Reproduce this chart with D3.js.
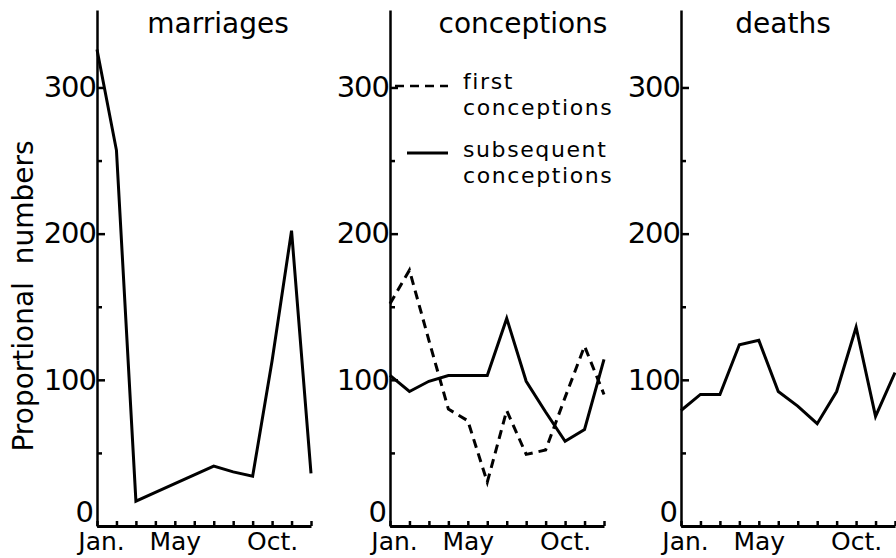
<!DOCTYPE html>
<html>
<head>
<meta charset="utf-8">
<script src="https://cdn.jsdelivr.net/npm/d3@7"></script>
<style>
  body { margin: 0; background: #fff; }
  text { font-family: "DejaVu Sans", sans-serif; fill: #000; }
</style>
</head>
<body>
<div id="chart"></div>
<script>
// month index 0..11 (Jan..Dec)
const months = ["Jan.", "Feb.", "Mar.", "Apr.", "May", "Jun.", "Jul.", "Aug.", "Sep.", "Oct.", "Nov.", "Dec."];
const monthLabels = ["Jan.", "May", "Oct."];
const yTicks = [0, 50, 100, 150, 200, 250, 300];
const yLabels = [0, 100, 200, 300];

const marriages = [326, 257, 17, 23, 29, 35, 41, 37, 34, 113, 202, 36];
const firstConceptions = [152, 175, 127, 80, 72, 30, 79, 49, 52, 88, 123, 90];
const subsequentConceptions = [103, 92, 99, 103, 103, 103, 142, 99, 78, 58, 66, 114];
const deaths = [79, 90, 90, 124, 127, 92, 82, 70, 92, 136, 75, 105];

const panelTitles = ["marriages", "conceptions", "deaths"];
const legendLabels = [["first", "conceptions"], ["subsequent", "conceptions"]];

function init() {
    let width = 896, height = 558;

    let svg = d3.select("#chart")
        .append("svg")
        .attr("width", width)
        .attr("height", height);

    // same vertical scale for every panel
    let y = d3.scaleLinear().domain([0, 353]).range([526, 10]);

    let panels = [
        { left: 97, titleX: 218, title: panelTitles[0], series: [{ values: marriages, dash: null }] },
        { left: 390, titleX: 523, title: panelTitles[1], series: [
            { values: firstConceptions, dash: "9,6" },
            { values: subsequentConceptions, dash: null }] },
        { left: 681, titleX: 783, title: panelTitles[2], series: [{ values: deaths, dash: null }] }
    ];

    panels.forEach(function (p) {
        let x = d3.scaleLinear().domain([0, 11]).range([p.left, p.left + 214]);
        let g = svg.append("g");

        // y axis, ticks pointing inwards
        let yAxis = g.append("g")
            .attr("transform", "translate(" + p.left + ",0)")
            .call(d3.axisLeft(y)
                .tickValues(yTicks)
                .tickSize(-8)
                .tickSizeOuter(0)
                .tickPadding(1)
                .tickFormat(function (d) { return yLabels.includes(d) ? d : ""; }));
        yAxis.selectAll("line").attr("stroke-width", 2.5)
            .attr("x2", function (d) { return yLabels.includes(d) ? 8 : 5; });
        yAxis.select(".domain").attr("stroke-width", 2.5);
        yAxis.selectAll("text").style("font-size", "29px").attr("letter-spacing", "-1px");
        // the zero sits a little above the month labels
        yAxis.selectAll("text").filter(function (d) { return d === 0; })
            .attr("dy", "-0.14em").attr("x", -4);

        // x axis with a small tick at every month
        let xAxis = g.append("g")
            .attr("transform", "translate(0," + y(0) + ")")
            .call(d3.axisBottom(x)
                .tickValues(d3.range(12))
                .tickSize(-5)
                .tickSizeOuter(0)
                .tickPadding(6)
                .tickFormat(function (d) {
                    return monthLabels.includes(months[d]) ? months[d] : "";
                }));
        xAxis.selectAll("line").attr("stroke-width", 2.5);
        xAxis.select(".domain").attr("stroke-width", 3);
        xAxis.selectAll("text").style("font-size", "25px")
            .attr("dx", function (d) { return d === 0 ? 4 : 0; });

        // panel title
        g.append("text")
            .attr("x", p.titleX)
            .attr("y", 33)
            .attr("text-anchor", "middle")
            .style("font-size", "28px")
            .text(p.title);

        let line = d3.line()
            .x(function (d, i) { return x(i); })
            .y(function (d) { return y(d); });

        p.series.forEach(function (s) {
            g.append("path")
                .datum(s.values)
                .attr("d", line)
                .attr("fill", "none")
                .attr("stroke", "#000")
                .attr("stroke-width", 3)
                .attr("stroke-linejoin", "miter")
                .attr("stroke-dasharray", s.dash);
        });
    });

    // legend inside the conceptions panel
    let legend = svg.append("g");
    legend.append("line")
        .attr("x1", 395).attr("x2", 448)
        .attr("y1", 86).attr("y2", 86)
        .attr("stroke", "#000").attr("stroke-width", 2.5)
        .attr("stroke-dasharray", "9,6");
    legend.append("line")
        .attr("x1", 407).attr("x2", 448)
        .attr("y1", 153).attr("y2", 153)
        .attr("stroke", "#000").attr("stroke-width", 3);
    [[89, 115], [157, 183]].forEach(function (ys, i) {
        legendLabels[i].forEach(function (t, j) {
            legend.append("text")
                .attr("x", 463)
                .attr("y", ys[j])
                .style("font-size", "22px")
                .attr("letter-spacing", "1.6px")
                .text(t);
        });
    });

    // y axis title
    svg.append("text")
        .attr("transform", "translate(33,296) rotate(-90)")
        .attr("text-anchor", "middle")
        .style("font-size", "28px")
        .attr("xml:space", "preserve")
        .text("Proportional  numbers");
}

window.addEventListener('load', init);
</script>
</body>
</html>
